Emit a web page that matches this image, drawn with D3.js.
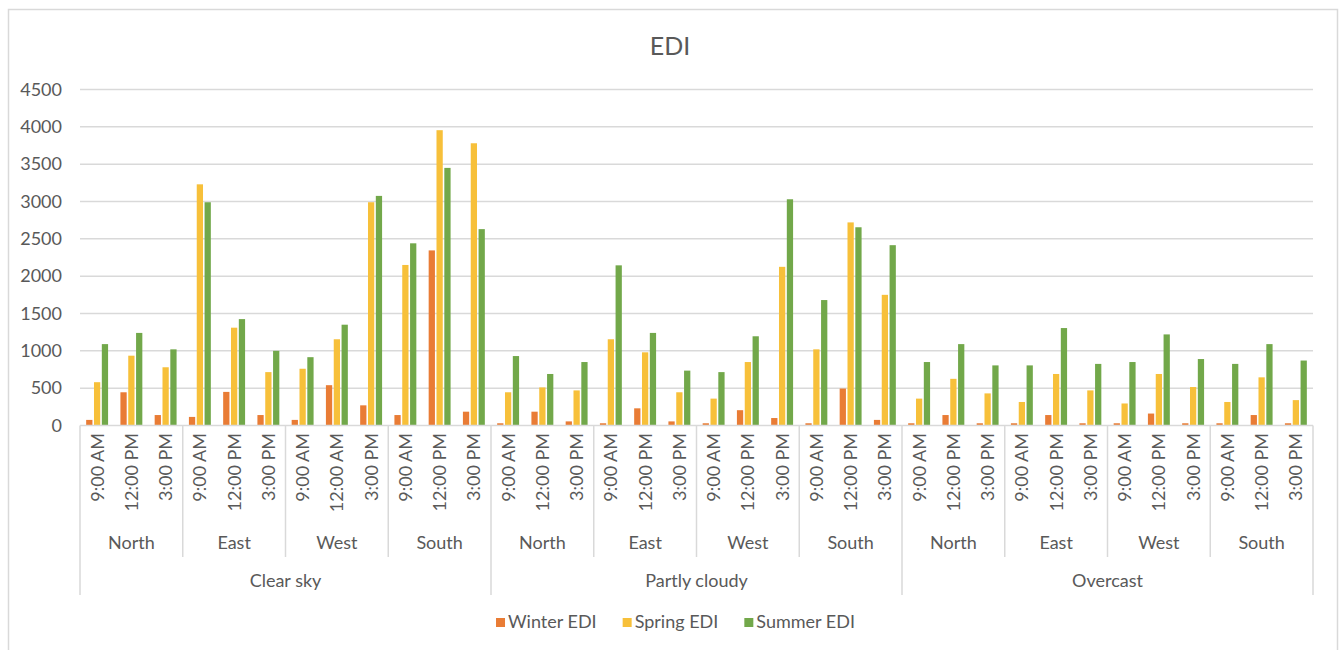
<!DOCTYPE html>
<html>
<head>
<meta charset="utf-8">
<script src="https://cdn.jsdelivr.net/npm/d3@7"></script>
<style>
  html, body { margin: 0; padding: 0; background: #fff; }
  svg { display: block; font-family: Lato, "Open Sans", sans-serif; }
</style>
</head>
<body>
<svg id="chart" width="1340" height="650"></svg>
<script>
// Sky conditions (outer level), orientations (middle level), times (inner level)
const conditions = ["Clear sky", "Partly cloudy", "Overcast"];
const directions = ["North", "East", "West", "South"];
const timeLabels = [
  "9:00 AM", "12:00 PM", "3:00 PM",  "9:00 AM", "12:00 PM", "3:00 PM",
  "9:00 AM", "12:00 AM", "3:00 PM",  "9:00 AM", "12:00 PM", "3:00 PM",
  "9:00 AM", "12:00 PM", "3:00 PM",  "9:00 AM", "12:00 PM", "3:00 PM",
  "9:00 AM", "12:00 PM", "3:00 PM",  "9:00 AM", "12:00 PM", "3:00 PM",
  "9:00 AM", "12:00 PM", "3:00 PM",  "9:00 AM", "12:00 PM", "3:00 PM",
  "9:00 AM", "12:00 PM", "3:00 PM",  "9:00 AM", "12:00 PM", "3:00 PM"
];

const seriesNames = ["Winter EDI", "Spring EDI", "Summer EDI"];

const winterEDI = [
  75, 445, 140,   115, 450, 140,   75, 540, 270,   140, 2345, 185,
  30, 185, 55,    30, 230, 55,     30, 205, 100,   30, 495, 75,
  30, 140, 30,    30, 140, 30,     30, 160, 30,    30, 140, 30
];
const springEDI = [
  580, 935, 780,    3230, 1310, 715,   760, 1155, 2990,  2150, 3955, 3780,
  445, 510, 470,    1155, 980, 445,    360, 850, 2125,   1020, 2720, 1750,
  360, 625, 430,    315, 690, 470,     295, 690, 515,    315, 645, 340
];
const summerEDI = [
  1090, 1240, 1020,  2990, 1425, 1000,  915, 1350, 3075,  2440, 3450, 2630,
  930, 690, 850,     2145, 1240, 735,   715, 1195, 3030,  1680, 2655, 2415,
  850, 1090, 805,    805, 1305, 825,    850, 1220, 890,   825, 1090, 870
];

const yTicks = [0, 500, 1000, 1500, 2000, 2500, 3000, 3500, 4000, 4500];

const colors = ["#E97C35", "#F7C03A", "#72A84A"];
const textColor = "#595959";
const lineColor = "#D9D9D9";

const svg = d3.select("#chart");

// chart frame
svg.append("rect")
  .attr("x", 8.5).attr("y", 9.5)
  .attr("width", 1329).attr("height", 660)
  .attr("fill", "#fff").attr("stroke", lineColor).attr("stroke-width", 1.5);

const plot = { left: 80, right: 1313, top: 89.5, bottom: 425.5 };

const y = d3.scaleLinear().domain([0, 4500]).range([plot.bottom, plot.top]);
const x0 = d3.scaleBand()
  .domain(d3.range(timeLabels.length))
  .range([plot.left, plot.right])
  .paddingInner(0.36).paddingOuter(0.18);
const x1 = d3.scaleBand()
  .domain(d3.range(seriesNames.length))
  .range([0, x0.bandwidth()])
  .paddingInner(0.2);
const step = x0.step();

// title
svg.append("text")
  .attr("x", 670).attr("y", 55)
  .attr("text-anchor", "middle")
  .attr("font-size", 25)
  .attr("fill", textColor)
  .text("EDI");

// gridlines
svg.append("g").selectAll("line")
  .data(yTicks.filter(d => d > 0))
  .join("line")
  .attr("x1", plot.left).attr("x2", plot.right)
  .attr("y1", d => y(d)).attr("y2", d => y(d))
  .attr("stroke", lineColor).attr("stroke-width", 1.5);

// y axis labels
const yAxis = d3.axisLeft(y)
  .tickValues(yTicks)
  .tickFormat(d3.format("d"))
  .tickSize(0).tickPadding(0);
svg.append("g")
  .attr("transform", `translate(62,0)`)
  .call(yAxis)
  .call(g => g.select(".domain").remove())
  .call(g => g.selectAll("text")
    .attr("font-size", 18)
    .attr("font-family", "Lato, sans-serif")
    .attr("fill", textColor));

// bars
const series = [winterEDI, springEDI, summerEDI];
const barGroups = svg.append("g").selectAll("g")
  .data(series)
  .join("g")
  .attr("fill", (d, i) => colors[i]);
barGroups.each(function (vals, si) {
  d3.select(this).selectAll("rect")
    .data(vals)
    .join("rect")
    .attr("x", (d, i) => x0(i) + x1(si))
    .attr("width", x1.bandwidth())
    .attr("y", d => y(d))
    .attr("height", d => y(0) - y(d));
});

// category axis line
svg.append("line")
  .attr("x1", plot.left).attr("x2", plot.right)
  .attr("y1", plot.bottom).attr("y2", plot.bottom)
  .attr("stroke", lineColor).attr("stroke-width", 1.5);

// separators: orientation groups and sky condition groups
const groupEdges = d3.range(0, timeLabels.length + 1, 3);
svg.append("g").selectAll("line")
  .data(groupEdges)
  .join("line")
  .attr("x1", i => plot.left + i * step).attr("x2", i => plot.left + i * step)
  .attr("y1", plot.bottom)
  .attr("y2", i => (i % 12 === 0) ? 595 : 557)
  .attr("stroke", lineColor).attr("stroke-width", 1.5);

// time labels (rotated)
svg.append("g").selectAll("text")
  .data(timeLabels)
  .join("text")
  .attr("transform", (d, i) => `translate(${x0(i) + x0.bandwidth() / 2},433) rotate(-90)`)
  .attr("dy", "0.36em")
  .attr("text-anchor", "end")
  .attr("font-size", 18)
  .attr("fill", textColor)
  .text(d => d);

// orientation labels
const dirLabels = [];
conditions.forEach((c, ci) => directions.forEach((dname, di) => dirLabels.push({ name: dname, idx: ci * 4 + di })));
svg.append("g").selectAll("text")
  .data(dirLabels)
  .join("text")
  .attr("x", d => plot.left + (d.idx * 3 + 1.5) * step)
  .attr("y", 549)
  .attr("text-anchor", "middle")
  .attr("font-size", 18)
  .attr("fill", textColor)
  .text(d => d.name);

// sky condition labels
svg.append("g").selectAll("text")
  .data(conditions)
  .join("text")
  .attr("x", (d, i) => plot.left + (i * 12 + 6) * step)
  .attr("y", 587)
  .attr("text-anchor", "middle")
  .attr("font-size", 18)
  .attr("fill", textColor)
  .text(d => d);

// legend
const legend = svg.append("g");
const items = legend.selectAll("g")
  .data(seriesNames)
  .join("g");
items.append("rect")
  .attr("width", 9).attr("height", 9)
  .attr("y", 618)
  .attr("fill", (d, i) => colors[i]);
items.append("text")
  .attr("x", 12).attr("y", 628)
  .attr("font-size", 18)
  .attr("fill", textColor)
  .text(d => d);
let widths = [];
items.each(function () { widths.push(this.getBBox().width); });
const gap = 26;
const total = d3.sum(widths) + gap * (widths.length - 1);
let cx = 675.5 - total / 2;
items.attr("transform", (d, i) => {
  const t = `translate(${cx},0)`;
  cx += widths[i] + gap;
  return t;
});
</script>
</body>
</html>
